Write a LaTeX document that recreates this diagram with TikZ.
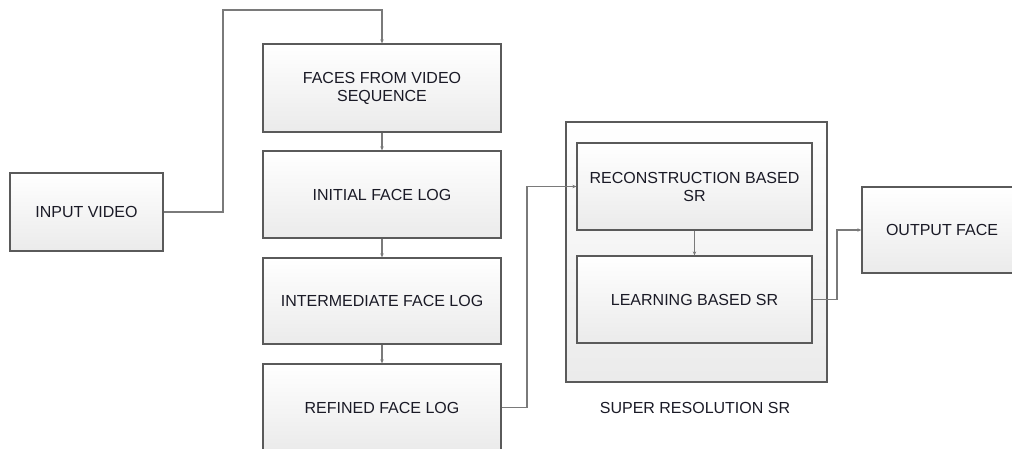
\documentclass[tikz,border=0pt]{standalone}
\usepackage{fontspec}
\setmainfont{Liberation Sans}
\usetikzlibrary{arrows.meta}
\definecolor{boxline}{HTML}{5A5A5A}
\definecolor{connline}{HTML}{7A7A7A}
\definecolor{txt}{HTML}{1A1A26}
\begin{document}
\begin{tikzpicture}[x=1pt,y=-1pt,
  blk/.style={draw=boxline, line width=1.3pt, top color=white, bottom color=black!8,
    minimum width=238pt, minimum height=87pt, inner sep=2pt, align=center,
    text=txt, font=\fontsize{16}{18}\selectfont},
  conn/.style={draw=connline, line width=1.3pt, -{Stealth[length=4pt,width=3.5pt]}},
  lbl/.style={text=txt, font=\fontsize{16}{18}\selectfont}]
\useasboundingbox (0,0) rectangle (1012,448);
\clip (0,0) rectangle (1012,448);
% super resolution container
\node[blk, minimum width=261pt, minimum height=260pt] (srbox) at (696.5,252) {};
\node[lbl] (srlabel) at (695,408) {SUPER RESOLUTION SR};
% left column
\node[blk, minimum width=153pt, minimum height=78pt] (invideo) at (86.5,212) {INPUT VIDEO};
\node[blk, minimum height=88pt] (faces) at (382,88) {FACES FROM VIDEO\\SEQUENCE};
\node[blk] (initial) at (382,194.5) {INITIAL FACE LOG};
\node[blk, minimum height=86pt] (inter) at (382,301) {INTERMEDIATE FACE LOG};
\node[blk] (refined) at (382,407.5) {REFINED FACE LOG};
% SR inner
\node[blk, minimum width=235pt] (recon) at (694.5,186.5) {RECONSTRUCTION BASED\\SR};
\node[blk, minimum width=235pt] (learn) at (694.5,299.5) {LEARNING BASED SR};
% output
\node[blk, minimum width=160pt, minimum height=86pt] (output) at (942,230) {OUTPUT FACE};
% bend points
\coordinate (c1) at (223,10);
\coordinate (c2) at (527,300);
\coordinate (c3) at (837,260);
% connectors
\draw[conn] (invideo.east) -| (c1) -| (faces.north);
\draw[conn] (faces.south) -- (initial.north);
\draw[conn] (initial.south) -- (inter.north);
\draw[conn] (inter.south) -- (refined.north);
\draw[conn] (refined.east) -| (c2) |- (recon.west);
\draw[conn] (recon.south) -- (learn.north);
\draw[conn] (learn.east) -| (c3) |- (output.west);
\end{tikzpicture}
\end{document}
